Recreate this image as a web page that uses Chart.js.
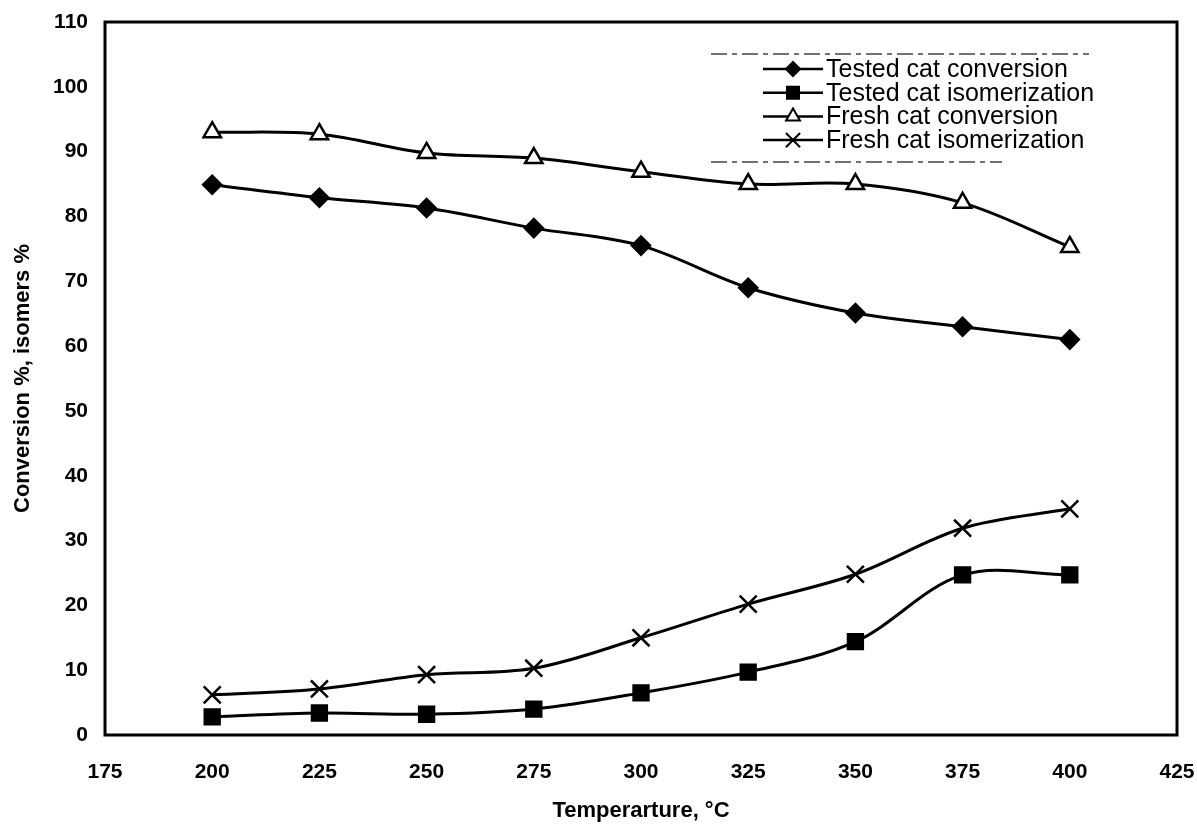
<!DOCTYPE html>
<html>
<head>
<meta charset="utf-8">
<script src="https://cdn.jsdelivr.net/npm/chart.js@4.4.1/dist/chart.umd.min.js"></script>
<style>
  html, body { margin: 0; padding: 0; background: #fff; }
  canvas { display: block; }
</style>
</head>
<body>
<canvas id="chart" width="1197" height="828"></canvas>
<script>
const temps = [200, 225, 250, 275, 300, 325, 350, 375, 400];
const testedConversion = [84.9, 82.9, 81.3, 78.2, 75.5, 69.0, 65.1, 63.0, 61.0];
const testedIsomerization = [2.8, 3.4, 3.2, 4.0, 6.5, 9.7, 14.4, 24.7, 24.7];
const freshConversion = [93.0, 92.7, 89.8, 89.0, 86.9, 85.0, 85.0, 82.1, 75.3];
const freshIsomerization = [6.2, 7.1, 9.3, 10.3, 15.0, 20.2, 24.8, 31.9, 34.9];

const xTicks = [175, 200, 225, 250, 275, 300, 325, 350, 375, 400, 425];
const yTicks = [0, 10, 20, 30, 40, 50, 60, 70, 80, 90, 100, 110];

const toPoints = vals => vals.map((v, i) => ({ x: temps[i], y: v }));

function series(label, vals, style, radius, fill) {
    return {
        label,
        data: toPoints(vals),
        borderColor: '#000',
        borderWidth: 3,
        tension: 0.35,
        pointStyle: style,
        pointRadius: radius,
        pointHoverRadius: radius,
        pointBackgroundColor: fill,
        pointBorderColor: '#000',
        pointBorderWidth: 2.5
    };
}

// box round the plot area
const frame = {
    id: 'frame',
    afterDatasetsDraw(chart) {
        const { ctx, chartArea: a } = chart;
        ctx.save();
        ctx.strokeStyle = '#000';
        ctx.lineWidth = 3;
        ctx.strokeRect(a.left, a.top, a.right - a.left, a.bottom - a.top);
        ctx.restore();
    }
};

// legend inside the plot, upper right
const innerLegend = {
    id: 'innerLegend',
    afterDraw(chart) {
        const { ctx, chartArea: a } = chart;
        const x0 = a.right - 414, x1 = a.right - 354, xm = (x0 + x1) / 2;
        const top = a.top + 47;
        ctx.save();
        ctx.strokeStyle = '#444';
        ctx.lineWidth = 1.5;
        ctx.setLineDash([16, 5, 5, 5]);
        ctx.beginPath();
        ctx.moveTo(x0 - 52, a.top + 32); ctx.lineTo(a.right - 88, a.top + 32);
        ctx.moveTo(x0 - 52, a.top + 140); ctx.lineTo(a.right - 175, a.top + 140);
        ctx.stroke();
        ctx.setLineDash([]);
        ctx.font = '25px "Liberation Sans", Arial, sans-serif';
        ctx.textBaseline = 'middle';
        ctx.fillStyle = '#000';
        chart.data.datasets.forEach((ds, i) => {
            const y = top + i * 23.7;
            ctx.strokeStyle = '#000';
            ctx.lineWidth = 2.5;
            ctx.beginPath(); ctx.moveTo(x0, y); ctx.lineTo(x1, y); ctx.stroke();
            ctx.fillStyle = ds.pointBackgroundColor;
            ctx.lineWidth = 2;
            Chart.helpers.drawPoint(ctx, { pointStyle: ds.pointStyle, radius: ds.pointRadius - 2, borderWidth: 2 }, xm, y);
            ctx.fillStyle = '#000';
            ctx.fillText(ds.label, x1 + 3, y + 1);
        });
        ctx.restore();
    }
};

const tickFont = { family: '"Liberation Sans", Arial, sans-serif', size: 21, weight: 'bold' };
const titleFont = { family: '"Liberation Sans", Arial, sans-serif', size: 22, weight: 'bold' };

new Chart(document.getElementById('chart'), {
    type: 'line',
    data: {
        datasets: [
            series('Tested cat conversion', testedConversion, 'rectRot', 9, '#000'),
            series('Tested cat isomerization', testedIsomerization, 'rect', 10.5, '#000'),
            series('Fresh cat conversion', freshConversion, 'triangle', 10, '#fff'),
            series('Fresh cat isomerization', freshIsomerization, 'crossRot', 12, '#000')
        ]
    },
    options: {
        responsive: false,
        animation: false,
        devicePixelRatio: 1,
        layout: { padding: 0 },
        plugins: { legend: { display: false }, tooltip: { enabled: false } },
        scales: {
            x: {
                type: 'linear',
                min: xTicks[0],
                max: xTicks[xTicks.length - 1],
                afterBuildTicks: s => { s.ticks = xTicks.map(v => ({ value: v })); },
                afterFit: s => { s.height = 93; s.paddingLeft = 0; s.paddingRight = 20; },
                grid: { display: false, drawTicks: false },
                border: { display: false },
                ticks: { color: '#000', font: tickFont, padding: 25, maxRotation: 0 },
                title: { display: true, text: 'Temperarture, °C', color: '#000', font: titleFont, padding: { top: 14 } }
            },
            y: {
                min: yTicks[0],
                max: yTicks[yTicks.length - 1],
                afterBuildTicks: s => { s.ticks = yTicks.map(v => ({ value: v })); },
                afterFit: s => { s.width = 105; s.paddingTop = 22; s.paddingBottom = 0; },
                grid: { display: false, drawTicks: false },
                border: { display: false },
                ticks: { color: '#000', font: tickFont, padding: 17 },
                title: { display: true, text: 'Conversion %, isomers %', color: '#000', font: titleFont, padding: { top: 10, bottom: 0 } }
            }
        }
    },
    plugins: [frame, innerLegend]
});
</script>
</body>
</html>
